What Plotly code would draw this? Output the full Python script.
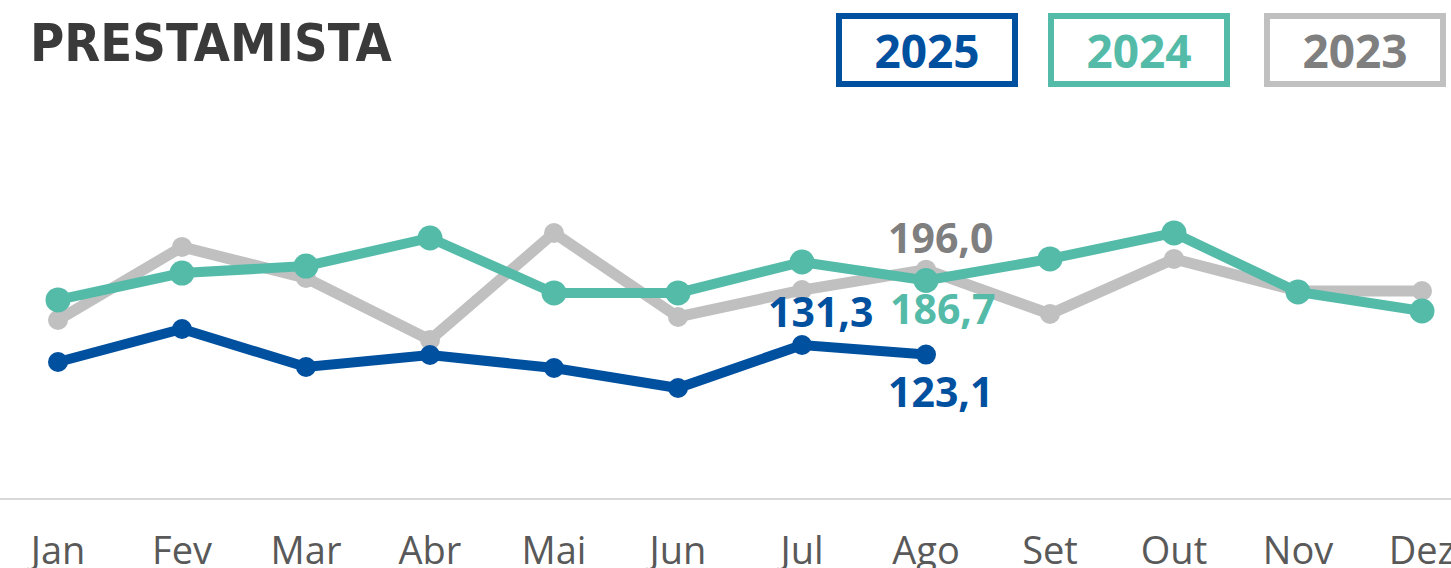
import plotly.graph_objects as go

months = ["Jan", "Fev", "Mar", "Abr", "Mai", "Jun", "Jul", "Ago", "Set", "Out", "Nov", "Dez"]
v2025 = [116.7, 145.1, 112.4, 122.7, 111.6, 94.4, 131.3, 123.1]
v2024 = [170.0, 193.1, 199.1, 223.2, 176.0, 176.0, 202.6, 186.7, 205.2, 227.5, 176.8, 160.5]
v2023 = [152.8, 215.5, 188.8, 135.6, 227.5, 155.4, 178.5, 196.0, 157.9, 205.2, 177.7, 177.7]

C25 = "#0050a0"
C24 = "#55bba9"
C23 = "#c0c0c0"
C23T = "#7f7f7f"

fig = go.Figure()
fig.add_trace(go.Scatter(x=months, y=v2023, mode="lines+markers",
                         line=dict(color=C23, width=11), marker=dict(size=20, color=C23)))
fig.add_trace(go.Scatter(x=months, y=v2024, mode="lines+markers",
                         line=dict(color=C24, width=10), marker=dict(size=25, color=C24)))
fig.add_trace(go.Scatter(x=months[:len(v2025)], y=v2025, mode="lines+markers",
                         line=dict(color=C25, width=10), marker=dict(size=20, color=C25)))

def fmt(v):
    return f"{v:.1f}".replace(".", ",")

lab_font = dict(family="Open Sans", size=41, weight="bold")
labels = [
    (months[7], v2023[7], C23T, 14, 33),
    (months[6], v2025[6], C25, 18, 34),
    (months[7], v2024[7], C24, 16, -28),
    (months[7], v2025[7], C25, 14, -36),
]
for x, y, c, xs, ys in labels:
    fig.add_annotation(x=x, y=y, text=fmt(y), showarrow=False, xshift=xs, yshift=ys,
                       font=dict(color=c, **lab_font))

# title
fig.add_annotation(xref="paper", yref="paper", x=28 / 1451, y=(498 - 43) / 398, xanchor="left",
                   yanchor="middle", text="PRESTAMISTA", showarrow=False,
                   font=dict(family="DejaVu Sans Condensed, DejaVu Sans", size=52, weight="bold",
                             color="#3a3a3a"))

# legend boxes
legend = [("2025", C25, C25, 927), ("2024", C24, C24, 1139), ("2023", C23T, C23, 1355)]
for txt, tc, bc, cx in legend:
    fig.add_annotation(xref="paper", yref="paper", x=cx / 1451, y=(498 - 50) / 398,
                       xanchor="center", yanchor="middle", text=txt, showarrow=False,
                       width=170, height=62, borderwidth=6, borderpad=0, bordercolor=bc,
                       font=dict(family="Open Sans", size=46, weight="bold", color=tc))

fig.update_layout(
    width=1451, height=568,
    margin=dict(l=0, r=0, t=100, b=70, autoexpand=False),
    paper_bgcolor="white", plot_bgcolor="white",
    showlegend=False,
    xaxis=dict(range=[-58 / 124, 11 + (1451 - 1422) / 124], showgrid=False, showline=True,
               linecolor="#d9d9d9", linewidth=2, ticks="", zeroline=False, automargin=False,
               tickfont=dict(family="Open Sans", size=38, color="#595959"),
               ticklabelstandoff=18),
    yaxis=dict(range=[0, 398 / 1.165], showgrid=False, zeroline=False, showticklabels=False,
               showline=False, automargin=False),
)

fig.write_html("out.html", config={"displayModeBar": False},
               post_script="document.body.style.margin='0';")
